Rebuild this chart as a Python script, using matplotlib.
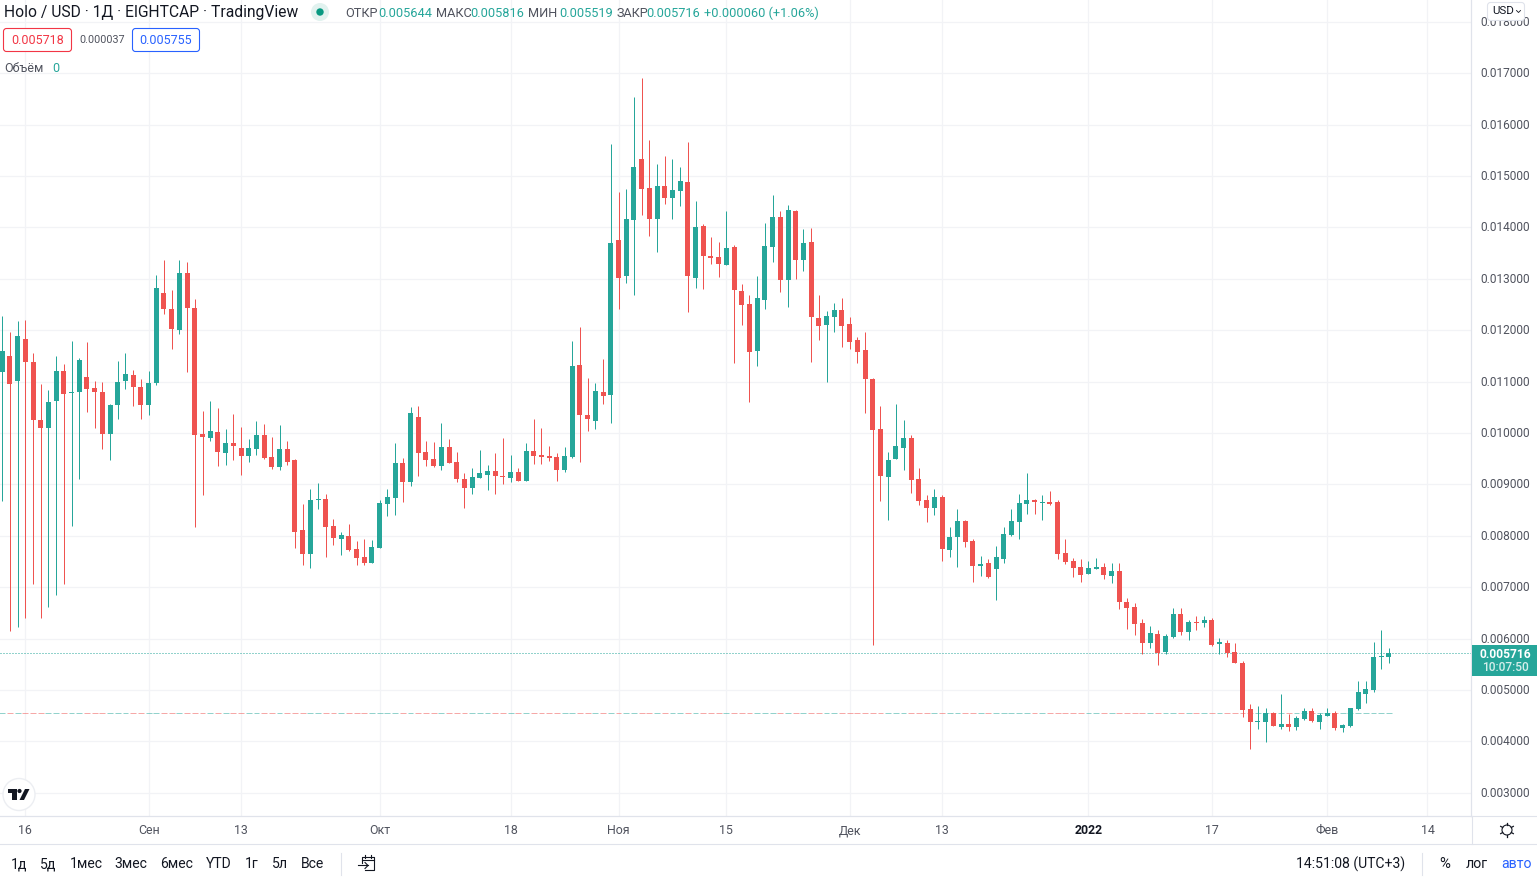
import numpy as np
import pandas as pd
import matplotlib
matplotlib.use('Agg')
import matplotlib.pyplot as plt
import matplotlib.dates as mdates
from matplotlib.patches import Circle, FancyBboxPatch, Polygon, Rectangle
from matplotlib.transforms import ScaledTranslation

plt.rcParams['font.family'] = ['Roboto', 'DejaVu Sans']

# daily HOT/USD candles, prices in millionths of a dollar
dates = pd.date_range('2021-08-13', periods=181, freq='D')
opens = [
    11182, 11507, 11007, 11838, 11390, 10261, 10092, 10618, 11215, 10780,
    10793, 11098, 10884, 10806, 9975, 10540, 11007, 11137, 10904, 10540,
    10969, 12734, 12422, 12001, 13104, 12442, 9989, 9911, 10028, 9619,
    9813, 9716, 9560, 9697, 9969, 9541, 9346, 9697, 9475, 8112,
    7645, 8697, 8716, 8190, 7937, 7996, 7743, 7587, 7470, 7762,
    8619, 8736, 9417, 9047, 10313, 9631, 9495, 9359, 9729, 9436,
    9105, 8930, 9125, 9183, 9261, 9164, 9125, 9242, 9067, 9651,
    9573, 9553, 9534, 9281, 9534, 11325, 10352, 10241, 10796, 10737,
    13755, 13054, 14144, 15332, 14767, 14164, 14806, 14573, 14709, 14884,
    13015, 14028, 13443, 13424, 13268, 13619, 12762, 12509, 11594, 12587,
    13619, 14203, 12976, 14320, 13366, 13716, 12236, 12100, 12256, 12392,
    12120, 11808, 11613, 11045, 10072, 9137, 9488, 9702, 9897, 9098,
    8690, 8534, 8748, 7716, 7969, 8281, 7891, 7405, 7463, 7346,
    7541, 8008, 8261, 8612, 8690, 8631, 8651, 8651, 7658, 7502,
    7385, 7249, 7346, 7385, 7210, 7307, 6704, 6617, 6306, 5916,
    6091, 5741, 6033, 6481, 6130, 6325, 6306, 6364, 5897, 5916,
    5741, 5527, 4631, 4378, 4378, 4553, 4281, 4339, 4281, 4437,
    4592, 4378, 4495, 4553, 4261, 4300, 4631, 4923, 5001, 5644, 5644,
]
highs = [
    12286, 11974, 12188, 12208, 11565, 10962, 10845, 11507, 11351, 11799,
    11468, 11779, 11020, 11001, 10572, 11409, 11565, 11228, 11060, 11215,
    13084, 13357, 12773, 13376, 13318, 12598, 10436, 10631, 10495, 10086,
    10378, 10125, 9891, 10242, 10183, 9930, 10164, 9852, 9488, 8619,
    8911, 9028, 8813, 8327, 8074, 8229, 7898, 7937, 7918, 8697,
    8911, 9806, 9514, 10507, 10527, 9845, 9826, 10196, 9884, 9631,
    9222, 9320, 9670, 9378, 9612, 9904, 9573, 9320, 9806, 10274,
    10098, 9748, 9612, 9729, 11792, 12065, 11072, 10971, 11438, 15624,
    14689, 14748, 16539, 16909, 15702, 15235, 15390, 15332, 15176, 15663,
    14514, 14067, 13814, 13716, 14319, 13658, 12898, 12684, 13054, 14086,
    14631, 14319, 14436, 14339, 13969, 13989, 12684, 12373, 12528, 12626,
    12256, 11867, 11964, 11065, 10520, 9624, 10559, 10247, 9955, 9313,
    8787, 8904, 8787, 8164, 8514, 8300, 7930, 7599, 7541, 7794,
    8164, 8514, 8806, 9215, 8709, 8787, 8865, 8690, 7930, 7560,
    7541, 7502, 7560, 7463, 7463, 7463, 6782, 6695, 6383, 6247,
    6169, 6091, 6598, 6598, 6364, 6442, 6442, 6403, 6014, 5975,
    5916, 5566, 4729, 4690, 4651, 4573, 4923, 4534, 4495, 4651,
    4651, 4553, 4651, 4592, 4339, 4651, 5176, 5176, 5936, 6169, 5816,
]
lows = [
    8671, 6140, 6217, 6393, 7055, 6393, 6607, 6841, 7055, 8184,
    9099, 10403, 10092, 9683, 9469, 10267, 10851, 10521, 10268, 10346,
    10930, 12312, 11631, 11923, 11183, 8165, 8788, 9852, 9366, 9385,
    9482, 9190, 9443, 9580, 9502, 9307, 9288, 9385, 7762, 7431,
    7373, 8521, 7587, 7820, 7626, 7704, 7431, 7431, 7470, 7762,
    8385, 8405, 8658, 8969, 9164, 9359, 9339, 9281, 9417, 9047,
    8541, 8813, 9125, 8891, 8813, 9008, 9047, 9067, 9067, 9397,
    9397, 9456, 9067, 9242, 9514, 9437, 10040, 10080, 10562, 10197,
    12412, 12918, 12684, 14242, 13833, 13521, 14456, 14164, 14417, 12353,
    12820, 12801, 13288, 13035, 13268, 11360, 12100, 10601, 11302, 12412,
    13327, 12743, 12451, 12996, 13152, 11380, 11808, 10990, 11964, 11672,
    11633, 11360, 10383, 5866, 8670, 8300, 9488, 9274, 8826, 8592,
    8261, 8397, 7502, 7580, 7385, 7774, 7093, 7210, 7171, 6743,
    7463, 7989, 7930, 8417, 8417, 8300, 8592, 7541, 7443, 7190,
    7093, 7249, 7346, 7151, 7073, 6567, 6178, 6072, 5702, 5819,
    5488, 5702, 6014, 6072, 5975, 6169, 6228, 5858, 5702, 5644,
    5527, 4475, 3852, 4242, 3989, 4300, 4242, 4203, 4222, 4417,
    4378, 4242, 4495, 4222, 4183, 4281, 4612, 4748, 4962, 5410, 5519,
]
closes = [
    11604, 10949, 11896, 11377, 10248, 10092, 10611, 11215, 10754, 10806,
    11429, 10851, 10793, 9975, 10553, 11001, 11156, 10891, 10540, 10982,
    12812, 12409, 12020, 13104, 12429, 9956, 9930, 10047, 9638, 9813,
    9755, 9560, 9716, 9969, 9521, 9346, 9697, 9443, 8074, 7645,
    8697, 8716, 8171, 7957, 8015, 7723, 7567, 7470, 7782, 8638,
    8755, 9417, 9047, 10391, 9612, 9475, 9359, 9729, 9417, 9105,
    8930, 9144, 9222, 9261, 9164, 9144, 9242, 9067, 9651, 9553,
    9534, 9514, 9281, 9553, 11306, 10352, 10274, 10815, 10718, 13697,
    13015, 14164, 15176, 14748, 14164, 14806, 14573, 14728, 14904, 13054,
    14008, 13443, 13404, 13288, 13599, 12782, 12489, 11574, 12626, 13638,
    14203, 12976, 14339, 13366, 13697, 12256, 12081, 12275, 12392, 12081,
    11769, 11574, 11049, 10052, 9157, 9468, 9741, 9897, 9079, 8670,
    8534, 8748, 7736, 7969, 8281, 7872, 7405, 7443, 7190, 7580,
    8028, 8281, 8631, 8690, 8651, 8651, 8612, 7638, 7482, 7366,
    7229, 7366, 7385, 7229, 7307, 6704, 6587, 6286, 5916, 6111,
    5721, 6052, 6481, 6130, 6325, 6306, 6364, 5877, 5936, 5721,
    5527, 4612, 4378, 4398, 4553, 4300, 4339, 4281, 4456, 4592,
    4398, 4514, 4553, 4261, 4320, 4651, 4962, 5020, 5644, 5663, 5716,
]
volume_level = 4547
last_close = 5716

price_ticks = [3000 + 1000 * i for i in range(16)]
time_tick_dates = ['2021-08-16', '2021-09-01', '2021-09-13', '2021-10-01', '2021-10-18',
                   '2021-11-01', '2021-11-15', '2021-12-01', '2021-12-13', '2022-01-01',
                   '2022-01-17', '2022-02-01', '2022-02-14']
time_tick_labels = ['16', 'Сен', '13', 'Окт', '18', 'Ноя', '15', 'Дек', '13', '2022', '17', 'Фев', '14']

GREEN = '#26a69a'
RED = '#ef5350'
GRID = '#f2f3f6'
BORDER = '#e0e3eb'
TEXT = '#131722'
AXIS_TEXT = '#50535e'
BLUE = '#2962ff'

W, H = 1537, 880
fig = plt.figure(figsize=(W / 100, H / 100), dpi=100, facecolor='white')
PANE_W, PANE_H = 1471, 816
ax = fig.add_axes([0, 1 - PANE_H / H, PANE_W / W, PANE_H / H])

x = mdates.date2num(dates)
o, h, l, c = [np.array(a) * 1e-6 for a in (opens, highs, lows, closes)]
up = c >= o
colors = np.where(up, GREEN, RED)

# zero volume bars sit as one dash per day
ax.hlines([volume_level * 1e-6] * len(x), x - 0.38, x + 0.38, colors=colors, lw=0.72, alpha=0.5, zorder=2)
ax.axhline(last_close * 1e-6, color=GREEN, lw=0.72, ls=(0, (1, 2)), zorder=2)
ax.vlines(x, l, h, colors=colors, lw=0.72, zorder=3)
ax.bar(x, np.maximum(np.abs(c - o), 1e-6 * 20), bottom=np.minimum(o, c), width=5 / 7.704,
       color=colors, linewidth=0, zorder=4)

# 7.704 px per day, first candle centred 2.2 px from the left edge
x0 = x[0] - 2.2 / 7.704
ax.set_xlim(x0, x0 + PANE_W / 7.704)
ax.set_ylim(0.002547, 0.018426)

ax.set_axisbelow(True)
ax.grid(True, color=GRID, lw=0.9)
ax.set_yticks([p * 1e-6 for p in price_ticks])
ax.set_yticklabels(['%.6f' % (p * 1e-6) for p in price_ticks])
ax.yaxis.tick_right()
ax.set_xticks(mdates.date2num(pd.to_datetime(time_tick_dates)))
ax.set_xticklabels(time_tick_labels)
ax.tick_params(axis='y', length=0, pad=7, labelsize=8.6, labelcolor=AXIS_TEXT)
ax.tick_params(axis='x', length=0, pad=6, labelsize=8.9, labelcolor=AXIS_TEXT)
# price labels sit a pixel above their grid lines
up_one_px = ScaledTranslation(0, 1 / 100, fig.dpi_scale_trans)
for lab in ax.get_yticklabels():
    lab.set_transform(lab.get_transform() + up_one_px)
for lab in ax.get_xticklabels():
    if lab.get_text() == '2022':
        lab.set_fontweight('bold')
        lab.set_color(TEXT)
for s in ('left', 'top'):
    ax.spines[s].set_visible(False)
for s in ('right', 'bottom'):
    ax.spines[s].set_color(BORDER)
    ax.spines[s].set_linewidth(0.9)

# everything around the chart is placed in screen pixels
ui = fig.add_axes([0, 0, 1, 1], zorder=5)
ui.set_xlim(0, W)
ui.set_ylim(H, 0)
ui.axis('off')
ui.patch.set_alpha(0)


def label(px, py, s, size=12, color=AXIS_TEXT, ha='left', **kw):
    ui.text(px, py, s, fontsize=size * 0.72, color=color, ha=ha, va='center', **kw)


# header line
label(4, 12.5, 'Holo / USD · 1Д · EIGHTCAP · TradingView', size=15.6, color=TEXT)
ui.add_patch(Circle((320, 12), 9, color='#e1f2ef', lw=0))
ui.add_patch(Circle((320, 12), 3.7, color='#089981', lw=0))
for px, s in [(345, 'ОТКР'), (436, 'МАКС'), (528, 'МИН'), (617, 'ЗАКР')]:
    label(px, 13.5, s, size=12.8)
for px, s in [(378, '0.005644'), (470, '0.005816'), (559, '0.005519'), (646, '0.005716'),
              (704, '+0.000060 (+1.06%)')]:
    label(px, 13.5, s, size=12.8, color=GREEN)

# bid / ask boxes
ui.add_patch(FancyBboxPatch((3.5, 28.5), 68, 23, boxstyle='round,pad=0,rounding_size=3',
                            fc='white', ec='#f23645', lw=0.8))
label(37.5, 40.5, '0.005718', size=12.5, color='#f23645', ha='center')
label(79, 40, '0.000037', size=10.8)
ui.add_patch(FancyBboxPatch((132.5, 28.5), 67, 23, boxstyle='round,pad=0,rounding_size=3',
                            fc='white', ec=BLUE, lw=0.8))
label(166, 40.5, '0.005755', size=12.5, color=BLUE, ha='center')
label(4, 68.5, 'Объём', size=12.5, color=AXIS_TEXT)
label(52, 68.5, '0', size=12.5, color=GREEN)

# currency button over the top price label
ui.add_patch(FancyBboxPatch((1487.5, 2.5), 37, 18, boxstyle='round,pad=0,rounding_size=3',
                            fc='white', ec=BORDER, lw=0.8))
label(1492, 11.5, 'USD', size=11.5, color=TEXT)
ui.plot([1516.5, 1518.5, 1520.5], [10.5, 12.5, 10.5], color=TEXT, lw=0.6)

# last price tag
ui.add_patch(Rectangle((1472, 645), 65, 31, fc=GREEN, lw=0))
label(1505, 654, '%.6f' % (last_close * 1e-6), size=12, color='white', ha='center', fontweight='bold')
label(1505, 667.5, '10:07:50', size=12, color='#d4eeeb', ha='center', fontweight='medium')

# logo badge
ui.add_patch(Circle((19, 794.5), 16, fc='white', ec='#eceef2', lw=1))
ui.add_patch(Polygon([(8, 789), (17, 789), (17, 800), (12, 800), (12, 793), (8, 793)], fc='#131722', lw=0))
ui.add_patch(Circle((19.5, 791), 2.1, fc='#131722', lw=0))
ui.add_patch(Polygon([(25, 789), (29.5, 789), (24, 800), (19.5, 800)], fc='#131722', lw=0))

# gear at the axis corner
ui.add_patch(Circle((1507, 830), 5, fc='white', ec=TEXT, lw=0.8))
for a in np.arange(0, 360, 60):
    ca, sa = np.cos(np.radians(a + 30)), np.sin(np.radians(a + 30))
    ui.plot([1507 + 5 * ca, 1507 + 7.3 * ca], [830 + 5 * sa, 830 + 7.3 * sa], color=TEXT, lw=0.9)

# bottom toolbar
ui.plot([0, W], [844.5, 844.5], color=BORDER, lw=0.8)
ui.plot([1471.5, W], [816.5, 816.5], color=BORDER, lw=0.8)
ui.plot([1471.5, 1471.5], [816, 844.5], color=BORDER, lw=0.8)
for px, s in [(19, '1д'), (48, '5д'), (86, '1мес'), (131, '3мес'), (177, '6мес'),
              (219, 'YTD'), (252, '1г'), (280, '5л'), (313, 'Все')]:
    label(px, 864.5, s, size=14, color=TEXT, ha='center')
ui.plot([340.5, 340.5], [853, 875], color=BORDER, lw=0.8)
ui.plot([1421.5, 1421.5], [853, 875], color=BORDER, lw=0.8)
# go-to-date icon
ui.plot([362, 362, 374, 374, 365], [863, 857.5, 857.5, 870.5, 870.5], color=TEXT, lw=0.8)
ui.plot([362, 374], [860.5, 860.5], color=TEXT, lw=0.8)
ui.plot([358, 368], [865.5, 865.5], color=TEXT, lw=0.8)
ui.plot([365, 368, 365], [862.5, 865.5, 868.5], color=TEXT, lw=0.8)
ui.plot([365, 365], [855.5, 858], color=TEXT, lw=0.8)
ui.plot([371, 371], [855.5, 858], color=TEXT, lw=0.8)
label(1351, 864.5, '14:51:08 (UTC+3)', size=14, color=TEXT, ha='center')
label(1445, 864.5, '%', size=15, color=TEXT, ha='center')
label(1477, 864.5, 'лог', size=14, color=TEXT, ha='center')
label(1516, 864.5, 'авто', size=14, color=BLUE, ha='center')

fig.savefig('out.png', dpi=100)
